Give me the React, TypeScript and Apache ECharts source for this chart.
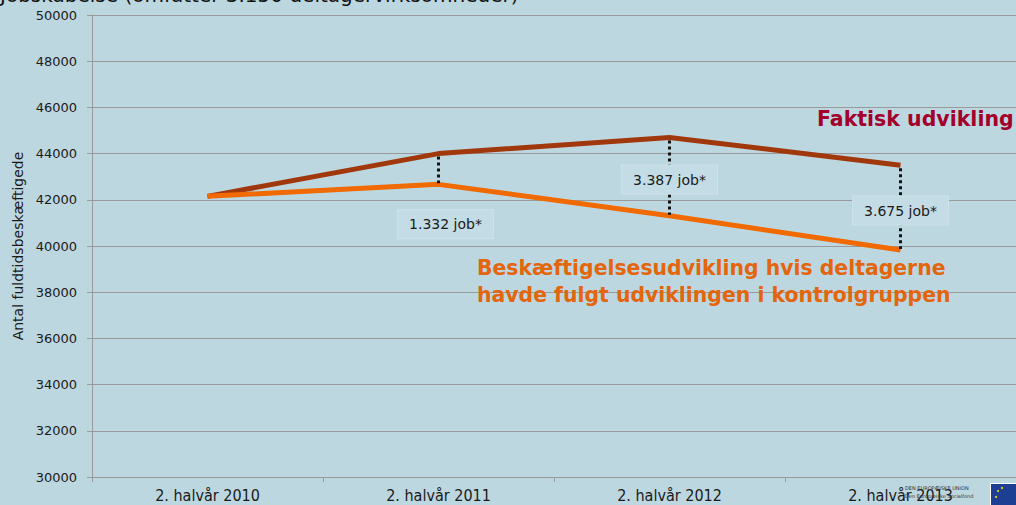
import React, { useEffect, useRef } from "react";
import * as echarts from "echarts";

const categories = ["2. halvår 2010", "2. halvår 2011", "2. halvår 2012", "2. halvår 2013"];
const faktisk = [42150, 44000, 44700, 43500];
const kontrol = [42150, 42668, 41313, 39825];
const gapLabels = ["", "1.332 job*", "3.387 job*", "3.675 job*"];

const FONT = "'DejaVu Sans', Verdana, sans-serif";

export default function App() {
  const ref = useRef<HTMLDivElement>(null);
  useEffect(() => {
    document.body.style.margin = "0";
    const chart = echarts.init(ref.current!, null, { renderer: "svg" });
    const annData = [1, 2, 3].map((i) => [i, faktisk[i], kontrol[i], gapLabels[i]]);
    chart.setOption({
      animation: false,
      backgroundColor: "#BDD7E0",
      grid: { left: 92, top: 15, width: 928, height: 462, containLabel: false },
      xAxis: {
        type: "category",
        data: categories,
        boundaryGap: true,
        axisLine: { lineStyle: { color: "#9a9a9a", width: 1 } },
        axisTick: { show: true, length: 5, lineStyle: { color: "#9a9a9a" } },
        axisLabel: { color: "#1a1a1a", fontFamily: "'DejaVu Sans Condensed', 'DejaVu Sans', sans-serif", fontSize: 16, margin: 10 },
      },
      yAxis: {
        type: "value",
        min: 30000,
        max: 50000,
        interval: 2000,
        name: "Antal fuldtidsbeskæftigede",
        nameLocation: "middle",
        nameGap: 65,
        nameTextStyle: { color: "#1a1a1a", fontFamily: FONT, fontSize: 14 },
        axisLine: { show: true, lineStyle: { color: "#9a9a9a" } },
        axisTick: { show: true, length: 5, lineStyle: { color: "#9a9a9a" } },
        axisLabel: { color: "#1a1a1a", fontFamily: FONT, fontSize: 13, margin: 15, formatter: (v: number) => String(v) },
        splitLine: { lineStyle: { color: "#9a9a9a", width: 1 } },
      },
      series: [
        {
          name: "Faktisk udvikling",
          type: "line",
          data: faktisk,
          symbol: "none",
          lineStyle: { color: "#A0380C", width: 5 },
          z: 3,
        },
        {
          name: "Kontrolgruppe",
          type: "line",
          data: kontrol,
          symbol: "none",
          lineStyle: { color: "#F06A00", width: 5 },
          z: 3,
        },
        {
          type: "custom",
          z: 5,
          data: annData,
          renderItem: (params: any, api: any) => {
            const idx = api.value(0);
            const p1 = api.coord([idx, api.value(1)]);
            const p2 = api.coord([idx, api.value(2)]);
            const label = gapLabels[idx];
            let tx = p1[0];
            let ty = (p1[1] + p2[1]) / 2 + 3;
            if (idx === 1) {
              tx = p1[0] + 7;
              ty = p2[1] + 40;
            }
            return {
              type: "group",
              children: [
                {
                  type: "line",
                  shape: { x1: p1[0], y1: p1[1] + 3, x2: p2[0], y2: p2[1] - 1 },
                  style: { stroke: "#111", lineWidth: 3, lineDash: [3, 3] },
                },
                {
                  type: "text",
                  x: tx,
                  y: ty,
                  style: {
                    text: label,
                    align: "center",
                    verticalAlign: "middle",
                    fill: "#1a1a1a",
                    font: `14px ${FONT}`,
                    backgroundColor: "#C4DCE5",
                    borderColor: "#CEE2E9",
                    borderWidth: 1,
                    padding: [7, 11, 7, 11],
                  },
                },
              ],
            };
          },
        },
      ],
      graphic: [
        {
          type: "text",
          left: 0,
          top: -15,
          style: { text: "Jobskabelse (omfatter 3.150 deltagervirksomheder)", fill: "#111", font: `20px ${FONT}` },
        },
        {
          type: "text",
          left: 817,
          top: 108,
          z: 10,
          style: { text: "Faktisk udvikling", fill: "#A3002B", font: `bold 20.5px ${FONT}` },
        },
        {
          type: "text",
          left: 477,
          top: 254,
          z: 10,
          style: {
            text: "Beskæftigelsesudvikling hvis deltagerne\nhavde fulgt udviklingen i kontrolgruppen",
            fill: "#E3650C",
            font: `bold 20.4px ${FONT}`,
            lineHeight: 27,
          },
        },
        {
          type: "text",
          left: 905,
          top: 484,
          z: 10,
          style: { text: "DEN EUROPÆISKE UNION\nDen Europæiske Socialfond", fill: "#333", font: `5px ${FONT}`, lineHeight: 8 },
        },
        {
          type: "rect",
          left: 990,
          top: 483,
          z: 10,
          shape: { width: 30, height: 24 },
          style: { fill: "#1C3F94", stroke: "#ffffff", lineWidth: 1 },
        },
        {
          type: "circle",
          left: 997,
          top: 490,
          z: 11,
          shape: { r: 1 },
          style: { fill: "#FFDD00" },
        },
        {
          type: "circle",
          left: 1001,
          top: 487,
          z: 11,
          shape: { r: 1 },
          style: { fill: "#FFDD00" },
        },
        {
          type: "circle",
          left: 995,
          top: 496,
          z: 11,
          shape: { r: 1 },
          style: { fill: "#FFDD00" },
        },
      ],
    });
    return () => chart.dispose();
  }, []);
  return <div ref={ref} style={{ width: 1016, height: 505 }} />;
}
